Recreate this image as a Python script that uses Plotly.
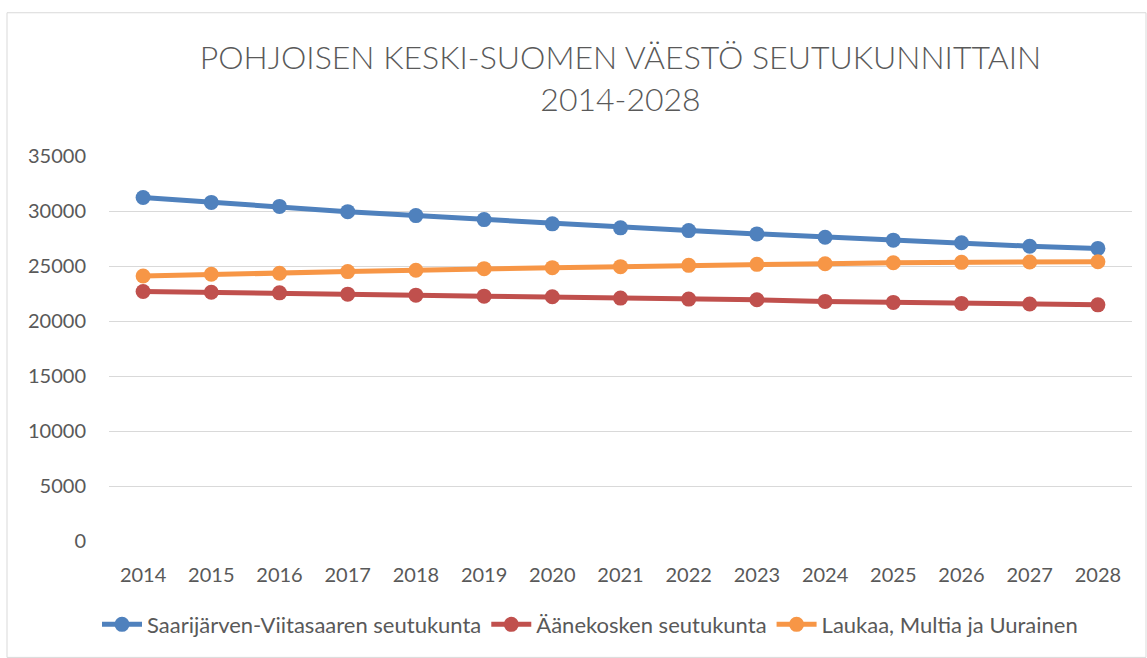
import plotly.graph_objects as go

years = [str(y) for y in range(2014, 2029)]
saarijarvi = [31230, 30780, 30420, 29940, 29580, 29220, 28830, 28470, 28220, 27920,
              27620, 27350, 27110, 26800, 26600]
aanekoski = [22680, 22620, 22560, 22440, 22350, 22260, 22200, 22080, 21990, 21930,
             21780, 21690, 21600, 21540, 21470]
laukaa = [24090, 24250, 24340, 24490, 24610, 24760, 24850, 24940, 25060, 25150,
          25210, 25300, 25330, 25360, 25390]
series_names = ["Saarijärven-Viitasaaren seutukunta", "Äänekosken seutukunta",
                "Laukaa, Multia ja Uurainen"]
y_ticks = [0, 5000, 10000, 15000, 20000, 25000, 30000, 35000]
y_tick_labels = ["0", "5000", "10000", "15000", "20000", "25000", "30000", "35000"]
title_text = "POHJOISEN KESKI-SUOMEN VÄESTÖ SEUTUKUNNITTAIN<br>2014-2028"

colors = ["#4F81BD", "#C0504D", "#F79646"]
FONT = "Lato"
TXT = "#595959"

fig = go.Figure()
for name, vals, col in zip(series_names, [saarijarvi, aanekoski, laukaa], colors):
    fig.add_trace(go.Scatter(
        x=years, y=vals, name=name, mode="lines+markers",
        line=dict(color=col, width=5),
        marker=dict(color=col, size=15),
    ))

W, H = 1147, 658
L, R, T, B = 109, 15, 156, 115
pw, ph = W - L - R, H - T - B

def px_x(x):
    return (x - L) / pw

def px_y(y):
    return (H - B - y) / ph

fig.add_shape(type="rect", xref="paper", yref="paper",
              x0=px_x(7), x1=px_x(1146), y0=px_y(660), y1=px_y(12),
              line=dict(color="#D9D9D9", width=1), layer="below")

fig.update_layout(
    width=W, height=H,
    margin=dict(l=L, r=R, t=T, b=B),
    paper_bgcolor="white", plot_bgcolor="white",
    font=dict(family=FONT, color=TXT, size=20),
    title=dict(text=title_text, x=0.5, xref="paper", xanchor="center",
               y=1 - 69 / H, yanchor="middle",
               font=dict(family=FONT, size=32, color=TXT, weight=300)),
    showlegend=True,
    legend=dict(orientation="h", x=px_x(590), xanchor="center", y=px_y(627), yanchor="middle",
                font=dict(family=FONT, size=22, color=TXT), itemwidth=40,
                bgcolor="rgba(0,0,0,0)"),
    xaxis=dict(type="category", range=[-0.5, 14.5], showgrid=False, showline=False,
               zeroline=False, ticks="", tickfont=dict(size=20, color=TXT),
               ticklabelstandoff=20),
    yaxis=dict(range=[0, 35000], tickvals=y_ticks, ticktext=y_tick_labels,
               showgrid=True, gridcolor="#D9D9D9",
               gridwidth=1, zeroline=False, showline=False, ticks="",
               tickfont=dict(size=20, color=TXT), ticklabelstandoff=22),
)

fig.write_html("out.html")
